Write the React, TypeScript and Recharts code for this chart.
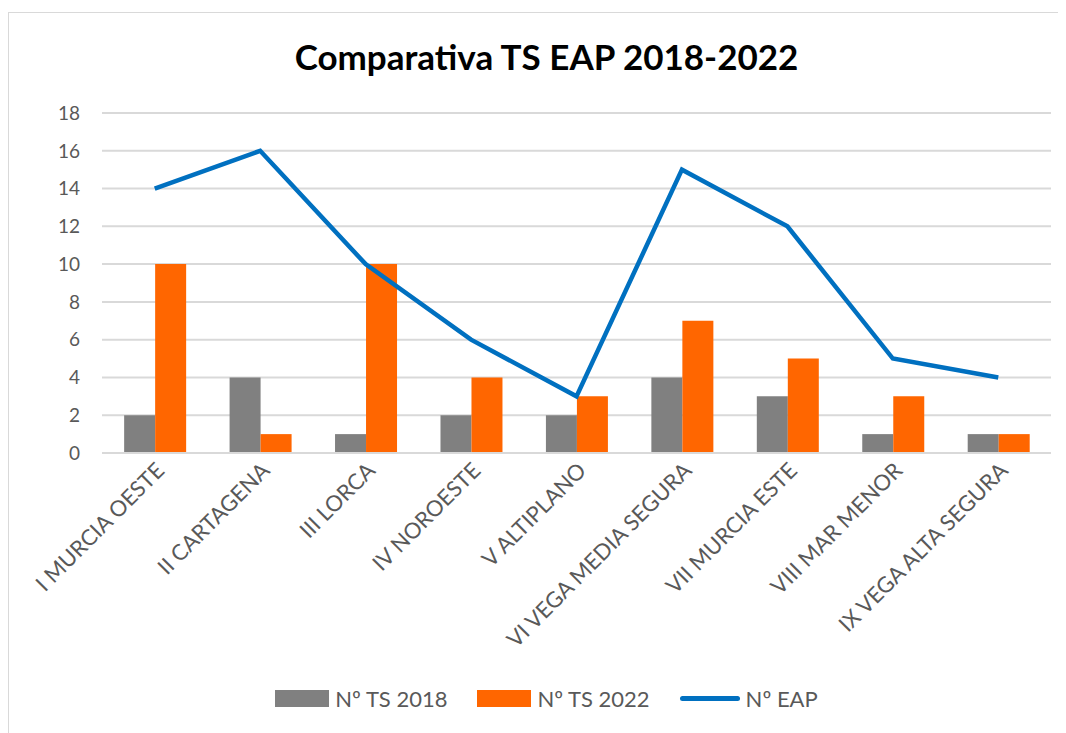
import { ComposedChart, Bar, Line, XAxis, YAxis, CartesianGrid, Legend } from "recharts";

const categories = [
  "I MURCIA OESTE",
  "II CARTAGENA",
  "III LORCA",
  "IV NOROESTE",
  "V ALTIPLANO",
  "VI VEGA MEDIA SEGURA",
  "VII MURCIA ESTE",
  "VIII MAR MENOR",
  "IX VEGA ALTA SEGURA",
];
const ts2018 = [2, 4, 1, 2, 2, 4, 3, 1, 1];
const ts2022 = [10, 1, 10, 4, 3, 7, 5, 3, 1];
const eap = [14, 16, 10, 6, 3, 15, 12, 5, 4];
const yTicks = [0, 2, 4, 6, 8, 10, 12, 14, 16, 18];

const data = categories.map((name, i) => ({
  name,
  ts2018: ts2018[i],
  ts2022: ts2022[i],
  eap: eap[i],
}));

const FONT = "Lato, 'Open Sans', sans-serif";
const TEXT = "#595959";

function CategoryTick({ x, y, payload }: any) {
  return (
    <text
      x={x + 11}
      y={y + 11}
      transform={`rotate(-45, ${x + 11}, ${y + 11})`}
      textAnchor="end"
      fill={TEXT}
      fontSize={22}
      fontFamily={FONT}
    >
      {payload.value}
    </text>
  );
}

function LegendContent() {
  const items = [
    { label: "Nº TS 2018", color: "#808080", kind: "bar" },
    { label: "Nº TS 2022", color: "#FF6600", kind: "bar" },
    { label: "Nº EAP", color: "#0070C0", kind: "line" },
  ];
  return (
    <div style={{ display: "flex", justifyContent: "center", gap: 30, fontFamily: FONT, fontSize: 22, color: TEXT }}>
      {items.map((it) => (
        <div key={it.label} style={{ display: "flex", alignItems: "center", gap: 6 }}>
          {it.kind === "bar" ? (
            <div style={{ width: 54, height: 17, background: it.color }} />
          ) : (
            <div style={{ width: 60, height: 5, borderRadius: 3, background: it.color }} />
          )}
          <span>{it.label}</span>
        </div>
      ))}
    </div>
  );
}

export default function App() {
  return (
    <div
      style={{
        position: "relative",
        width: 1058,
        height: 721,
        marginTop: 4,
        borderTop: "1px solid #d9d9d9",
        borderLeft: "1px solid #d9d9d9",
        background: "#fff",
      }}
    >
      <div
        style={{
          position: "absolute",
          top: 22,
          left: 0,
          width: 1075,
          textAlign: "center",
          fontFamily: FONT,
          fontWeight: 700,
          fontSize: 35,
          color: "#000",
        }}
      >
        Comparativa TS EAP 2018-2022
      </div>
      <ComposedChart
        width={1058}
        height={720}
        data={data}
        margin={{ top: 100, right: 16, bottom: 0, left: 33 }}
        barCategoryGap="21%"
        barGap={0}
      >
        <CartesianGrid vertical={false} stroke="#d9d9d9" strokeWidth={2} />
        <XAxis
          dataKey="name"
          interval={0}
          height={253}
          tick={<CategoryTick />}
          tickLine={false}
          axisLine={{ stroke: "#d9d9d9", strokeWidth: 2 }}
        />
        <YAxis
          width={60}
          domain={[0, 18]}
          ticks={yTicks}
          tickLine={false}
          axisLine={false}
          tickSize={0}
          tickMargin={22}
          tick={{ fill: TEXT, fontSize: 19, fontFamily: FONT }}
        />
        <Legend verticalAlign="bottom" wrapperStyle={{ bottom: 21 }} content={<LegendContent />} />
        <Bar dataKey="ts2018" name="Nº TS 2018" fill="#808080" isAnimationActive={false} />
        <Bar dataKey="ts2022" name="Nº TS 2022" fill="#FF6600" isAnimationActive={false} />
        <Line
          dataKey="eap"
          name="Nº EAP"
          type="linear"
          stroke="#0070C0"
          strokeWidth={4.5}
          dot={false}
          activeDot={false}
          isAnimationActive={false}
        />
      </ComposedChart>
    </div>
  );
}
